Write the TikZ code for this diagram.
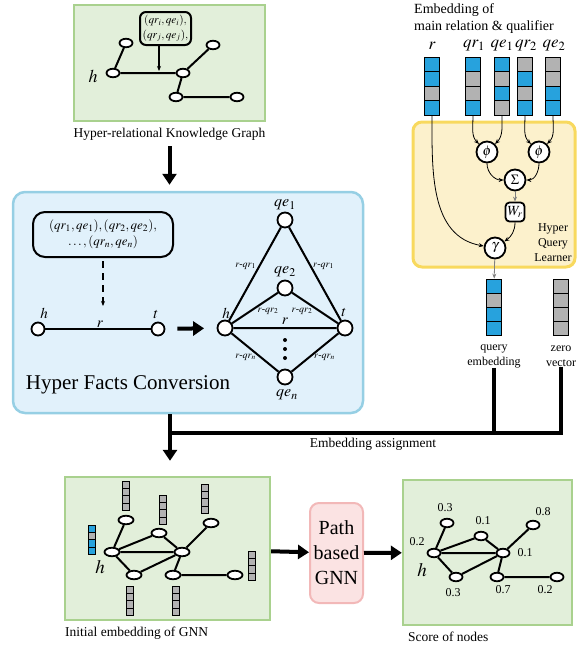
\documentclass[tikz,border=0pt]{standalone}
\usepackage{mathptmx}
\usepackage{fontspec}
\setmainfont{Liberation Serif}
\usetikzlibrary{shapes.geometric, arrows.meta, positioning, calc}

\definecolor{gfill}{HTML}{E2EFDA}
\definecolor{gline}{HTML}{A9D18E}
\definecolor{bfill}{HTML}{E1F1FB}
\definecolor{bline}{HTML}{96CFE4}
\definecolor{yfill}{HTML}{FCF1CC}
\definecolor{yline}{HTML}{F8D95E}
\definecolor{pfill}{HTML}{FBE3E3}
\definecolor{pline}{HTML}{F2B8B8}
\definecolor{vblue}{HTML}{27A2DD}
\definecolor{vgray}{HTML}{B2B2B2}

\begin{document}
\begin{tikzpicture}[x=1pt, y=-1pt,
  greenbox/.style={rectangle, draw=gline, fill=gfill, line width=2.4pt},
  bluebox/.style={rectangle, rounded corners=12pt, draw=bline, fill=bfill, line width=2.5pt},
  yellowbox/.style={rectangle, rounded corners=9pt, draw=yline, fill=yfill, line width=3pt},
  pinkbox/.style={rectangle, rounded corners=9pt, draw=pline, fill=pfill, line width=2pt,
                  inner sep=1pt, align=center, font=\fontsize{20}{25}\selectfont},
  qualbox/.style={rectangle, rounded corners=6pt, draw, line width=2pt, align=center, inner sep=1pt},
  kgnode/.style={ellipse, draw, fill=white, line width=1.8pt, minimum width=13pt,
                 minimum height=8.5pt, inner sep=0pt},
  hcirc/.style={circle, draw, fill=white, line width=1.8pt, minimum size=15pt, inner sep=0pt},
  opnode/.style={circle, draw, fill=white, line width=1.8pt, minimum size=21pt, inner sep=0pt,
                 font=\fontsize{14}{14}\selectfont},
  wnode/.style={opnode, rectangle, rounded corners=4pt, minimum size=19pt},
  cell/.style={rectangle, draw, line width=0.8pt, minimum width=15pt, minimum height=14.5pt, inner sep=0pt},
  scell/.style={cell, minimum width=7pt, minimum height=7.3pt, line width=0.6pt},
  edge/.style={line width=2pt},
  captext/.style={inner sep=0pt, font=\fontsize{13.5}{16}\selectfont},
  smalltext/.style={inner sep=0pt, align=center, font=\fontsize{12}{15}\selectfont},
  mathlab/.style={inner sep=0pt, font=\fontsize{17}{17}\selectfont},
  edgelab/.style={inner sep=0pt, font=\fontsize{10}{10}\selectfont},
  score/.style={inner sep=0pt, font=\fontsize{12}{12}\selectfont},
  bigarrow/.style={line width=4pt, -{Triangle[length=11pt, width=14pt]}},
  thickline/.style={line width=4pt, line join=miter},
  thinarrow/.style={line width=0.8pt, -{Stealth[length=5pt, width=4pt]}},
  grayarrow/.style={thinarrow, draw=gray}
]
\useasboundingbox (0,0) rectangle (587,646);

% boxes
\node[greenbox, minimum width=191pt, minimum height=116pt] (kg) at (169.5,63) {};
\node[bluebox, minimum width=350pt, minimum height=221pt] (hyper) at (188,302.5) {};
\node[yellowbox, minimum width=162pt, minimum height=145pt] (hql) at (494,194.5) {};
\node[greenbox, minimum width=205pt, minimum height=143pt] (initbox) at (167.5,548.5) {};
\node[greenbox, minimum width=169pt, minimum height=145pt] (scorebox) at (487.5,552.5) {};
\node[pinkbox, minimum width=53pt, minimum height=100pt] (gnn) at (336.5,553) {Path\\based\\GNN};

% hyper-relational KG
\node[captext] (kgcap) at (169.5,134) {Hyper-relational Knowledge Graph};
\node[kgnode] (ka) at (113,73) {};
\node[kgnode] (kb) at (126,43) {};
\node[kgnode] (kc) at (183,73) {};
\node[kgnode] (kd) at (213,45) {};
\node[kgnode] (ke) at (176,97) {};
\node[kgnode] (kf) at (237,97) {};
\node[mathlab, font=\fontsize{18}{18}\selectfont] (kh) at (93,76) {$h$};
\draw[edge] (ka) -- (kb) (ka) -- (kc) (kc) -- (kd) (kc) -- (ke) (ke) -- (kf);
\node[qualbox, minimum width=51pt, minimum height=33pt, font=\fontsize{11.3}{14.5}\selectfont]
  (kq) at (165.5,28.5) {$(qr_i,qe_i),$\\$(qr_j,qe_j),$};
\coordinate (kq0) at (159,71);
\draw[thinarrow, line width=1.2pt] (kq.south -| kq0) -- (kq0);
\draw[bigarrow, shorten <=6pt, shorten >=6pt] (kgcap.south) -- (kgcap.south |- hyper.north);

% hyper facts conversion
\node[qualbox, minimum width=140pt, minimum height=45pt, rounded corners=12pt,
      font=\fontsize{13}{16}\selectfont]
  (hq) at (103,234.5) {$(qr_1,qe_1),(qr_2,qe_2),$\\$\ldots,(qr_n,qe_n)$};
\coordinate (hq0) at (103,306);
\draw[thinarrow, line width=1.5pt, dash pattern=on 7pt off 5pt, shorten <=3pt] (hq.south) -- (hq0);
\node[hcirc, minimum size=13pt] (ha) at (38,329) {};
\node[hcirc, minimum size=13pt] (ta) at (158,329) {};
\draw[line width=1.2pt] (ha) -- (ta);
\node[mathlab, font=\fontsize{15}{15}\selectfont, anchor=base] (hal) at (44,318) {$h$};
\node[mathlab, font=\fontsize{15}{15}\selectfont, anchor=base] (tal) at (156,318) {$t$};
\node[mathlab, font=\fontsize{15}{15}\selectfont, anchor=base] (ral) at (100,327) {$r$};
\node[hcirc] (hb) at (225,328) {};
\node[hcirc] (tb) at (345,328) {};
\node[hcirc] (qe1) at (285,220) {};
\node[hcirc] (qe2) at (285,288) {};
\node[hcirc] (qen) at (285,377) {};
\draw[bigarrow, shorten <=12pt, shorten >=12.5pt] (ta) -- (hb);
\draw[edge] (hb) -- (qe1) -- (tb) (hb) -- (qe2) -- (tb) (hb) -- (tb) (hb) -- (qen) -- (tb);
\node[mathlab, font=\fontsize{16}{16}\selectfont] (qe1l) at (285,205) {$qe_1$};
\node[mathlab, font=\fontsize{16}{16}\selectfont] (qe2l) at (285,272) {$qe_2$};
\node[mathlab, font=\fontsize{16}{16}\selectfont] (qenl) at (287,395) {$qe_n$};
\node[mathlab, font=\fontsize{15}{15}\selectfont] (hbl) at (226,313) {$h$};
\node[mathlab, font=\fontsize{15}{15}\selectfont] (tbl) at (344,313) {$t$};
\node[mathlab, font=\fontsize{15}{15}\selectfont] (rbl) at (285,321) {$r$};
\node[edgelab, anchor=east] (e1l) at (256,266) {$r$-$qr_1$};
\node[edgelab, anchor=west] (e1r) at (313,266) {$r$-$qr_1$};
\node[edgelab] (e2l) at (268,311) {$r$-$qr_2$};
\node[edgelab] (e2r) at (302,311) {$r$-$qr_2$};
\node[edgelab, anchor=east] (enl) at (256,357) {$r$-$qr_n$};
\node[edgelab, anchor=west] (enr) at (314,357) {$r$-$qr_n$};
\foreach \dy in {340,349,358}
  \fill (285,\dy) circle (2pt);
\node[inner sep=0pt, font=\fontsize{21}{24}\selectfont] (hfclab) at (128,385) {Hyper Facts Conversion};

% embeddings of main relation and qualifiers
\node[captext, anchor=north west, align=left, font=\fontsize{14}{17}\selectfont] (embof) at (414,3)
  {Embedding of\\main relation \& qualifier};
\foreach \vname/\vx/\cols in {r/432/{vblue,vblue,vgray,vblue}, qrA/473/{vblue,vgray,vgray,vblue},
    qeA/502/{vblue,vgray,vblue,vgray}, qrB/525/{vgray,vblue,vgray,vblue}, qeB/553/{vgray,vgray,vblue,vblue}}
  \foreach \c [count=\i] in \cols
    \node[cell, fill=\c] (\vname\i) at (\vx, 50+14.5*\i) {};
\node[mathlab] (rl) at (432,46) {$r$};
\node[mathlab] (qrAl) at (474,46) {$qr_1$};
\node[mathlab] (qeAl) at (502,46) {$qe_1$};
\node[mathlab] (qrBl) at (526,46) {$qr_2$};
\node[mathlab] (qeBl) at (554,46) {$qe_2$};

% hyper query learner
\node[opnode] (phiA) at (487,152) {$\phi$};
\node[opnode] (phiB) at (539,152) {$\phi$};
\node[opnode] (sum) at (515,180) {$\Sigma$};
\node[wnode] (wr) at (515,212) {$W_r$};
\node[opnode] (gam) at (495,248) {$\gamma$};
\node[smalltext, font=\fontsize{12}{15}\selectfont] (hqlab) at (553,243) {Hyper\\Query\\Learner};
\draw[thinarrow] (qrA4.south) to[out=-90, in=135] (phiA);
\draw[thinarrow] (qeA4.south) to[out=-90, in=45] (phiA);
\draw[thinarrow] (qrB4.south) to[out=-90, in=135] (phiB);
\draw[thinarrow] (qeB4.south) to[out=-90, in=45] (phiB);
\draw[thinarrow] (phiA) to[out=-90, in=180] (sum);
\draw[thinarrow] (phiB) to[out=-90, in=0] (sum);
\draw[grayarrow] (sum) -- (wr);
\draw[thinarrow] (wr) to[out=-90, in=35] (gam);
\draw[thinarrow] (r4.south) to[out=-90, in=170] (gam);

% query embedding and zero vector
\foreach \c [count=\i] in {vblue,vgray,vblue,vblue}
  \node[cell, fill=\c, minimum height=14pt] (qv\i) at (494, 272+14*\i) {};
\foreach \i in {1,...,4}
  \node[cell, fill=vgray, minimum height=14pt] (zv\i) at (561, 272+14*\i) {};
\draw[grayarrow] (gam) -- (qv1);
\node[smalltext] (qlab) at (494,356) {query\\embedding};
\node[smalltext] (zlab) at (561,356) {zero\\vector};

% embedding assignment
\coordinate (jl) at (170,433);
\coordinate (jq) at (494,433);
\coordinate (jz) at (561,433);
\draw[thickline] (qlab) -- (jq);
\draw[thickline] (zlab) -- (jz) -- (jl);
\draw[bigarrow, shorten >=15pt] (hyper.south -| jl) -- (initbox.north -| jl);
\node[captext] (ealab) at (373,444) {Embedding assignment};

% initial embedding of GNN
\node[kgnode, minimum width=15pt] (ga) at (112,552) {};
\node[kgnode, minimum width=15pt] (gb) at (126,520) {};
\node[kgnode, minimum width=15pt] (gc) at (159,533) {};
\node[kgnode, minimum width=15pt] (gd) at (182,552) {};
\node[kgnode, minimum width=15pt] (ge) at (211,523) {};
\node[kgnode, minimum width=15pt] (gf) at (134,575) {};
\node[kgnode, minimum width=15pt] (gg) at (173,575) {};
\node[kgnode, minimum width=15pt] (gh) at (235,575) {};
\draw[edge] (ga) -- (gb) (ga) -- (gc) (ga) -- (gd) (ga) -- (gf) (gc) -- (gd)
            (gd) -- (ge) (gd) -- (gg) (gf) -- (gd) (gg) -- (gh);
\node[mathlab, font=\fontsize{19}{19}\selectfont] (gl) at (100,567) {$h$};
\foreach \c [count=\i] in {vblue,vgray,vblue,vblue}
  \node[scell, fill=\c] (hv\i) at (92, 521.3+7.3*\i) {};
\foreach \vx/\vy [count=\k] in {126/481, 163/495, 205/484, 252/551, 130/586, 176/586}
  \foreach \i in {1,...,4}
    \node[scell, fill=vgray] (gv\k-\i) at (\vx, \vy-3.7+7.3*\i) {};
\node[captext, anchor=west] (initcap) at (65,633) {Initial embedding of GNN};

% path based GNN
\draw[bigarrow] (initbox) -- (gnn);
\draw[bigarrow] (gnn) -- (scorebox);

% score of nodes
\node[kgnode] (sa) at (434,553) {};
\node[kgnode] (sb) at (447,523) {};
\node[kgnode] (sc) at (481,536) {};
\node[kgnode] (sd) at (503,553) {};
\node[kgnode] (se) at (533,525) {};
\node[kgnode] (sf) at (456,577) {};
\node[kgnode] (sg) at (497,577) {};
\node[kgnode] (sh) at (557,577) {};
\draw[edge] (sa) -- (sb) (sa) -- (sc) (sa) -- (sd) (sa) -- (sf) (sc) -- (sd)
            (sd) -- (se) (sd) -- (sg) (sf) -- (sd) (sg) -- (sh);
\node[mathlab, font=\fontsize{19}{19}\selectfont] (sl) at (422,570) {$h$};
\node[score] (sal) at (417,542) {0.2};
\node[score] (sbl) at (445,508) {0.3};
\node[score] (scl) at (483,521) {0.1};
\node[score] (sdl) at (525,553) {0.1};
\node[score] (sel) at (543,512) {0.8};
\node[score] (sfl) at (453,593) {0.3};
\node[score] (sgl) at (503,590) {0.7};
\node[score] (shl) at (545,590) {0.2};
\node[captext, anchor=west] (scorecap) at (408,637) {Score of nodes};
\end{tikzpicture}
\end{document}
